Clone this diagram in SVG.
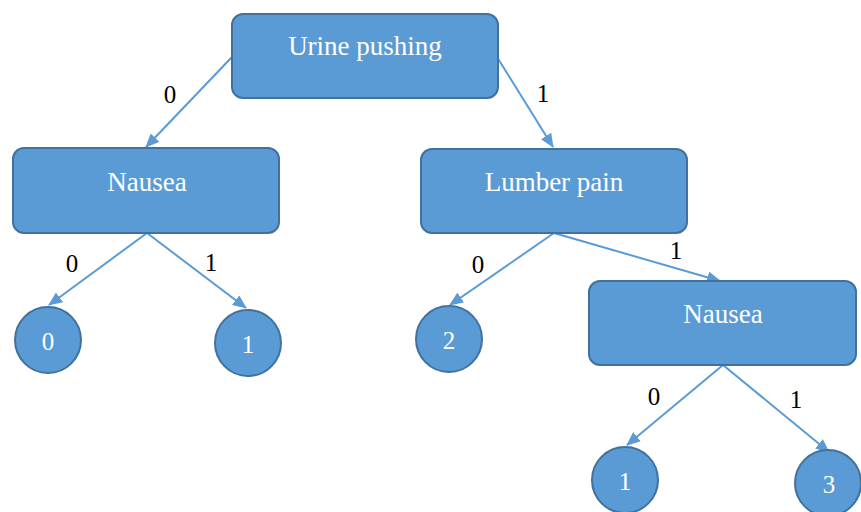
<svg xmlns="http://www.w3.org/2000/svg" width="861" height="512" viewBox="0 0 861 512">
<style>
.node{fill:#5B9BD5;stroke:#41719C;stroke-width:2}
text{font-family:'Liberation Serif','Tinos','Times New Roman','DejaVu Serif',serif}
.nt{font-size:27px;fill:#ffffff;text-anchor:middle}
.ct{font-size:25px;fill:#ffffff;text-anchor:middle}
.lbl{font-size:25px;fill:#000000;text-anchor:middle}
.edge{stroke:#5B9BD5;stroke-width:2;fill:none;marker-end:url(#ah)}
</style>
<defs>
<marker id="ah" markerUnits="userSpaceOnUse" markerWidth="14" markerHeight="12" refX="13" refY="6" orient="auto">
<path d="M0,0 L14,6 L0,12 z" fill="#5B9BD5"/>
</marker>
</defs>
<rect width="861" height="512" fill="#ffffff"/>
<g id="connectors">
<line class="edge" x1="232" y1="57" x2="146" y2="147"/>
<line class="edge" x1="497" y1="57" x2="553" y2="147"/>
<line class="edge" x1="147" y1="233" x2="49" y2="305"/>
<line class="edge" x1="147" y1="233" x2="246" y2="308"/>
<line class="edge" x1="554" y1="233" x2="450" y2="305"/>
<line class="edge" x1="554" y1="233" x2="720" y2="281"/>
<line class="edge" x1="723" y1="365" x2="627" y2="445"/>
<line class="edge" x1="723" y1="365" x2="829" y2="452"/>
<text class="lbl" x="170" y="103" font-family="Liberation Serif, serif">0</text>
<text class="lbl" x="543" y="102" font-family="Liberation Serif, serif">1</text>
<text class="lbl" x="72" y="272" font-family="Liberation Serif, serif">0</text>
<text class="lbl" x="211" y="271" font-family="Liberation Serif, serif">1</text>
<text class="lbl" x="478" y="273" font-family="Liberation Serif, serif">0</text>
<text class="lbl" x="676" y="259" font-family="Liberation Serif, serif">1</text>
<text class="lbl" x="654" y="405" font-family="Liberation Serif, serif">0</text>
<text class="lbl" x="796" y="408" font-family="Liberation Serif, serif">1</text>
</g>
<g id="urine">
<rect class="node" x="232" y="14" width="266" height="84" rx="11"/>
<text class="nt" x="365" y="55" font-family="Liberation Serif, serif">Urine pushing</text>
</g>
<g id="nausea1">
<rect class="node" x="13" y="148" width="266" height="85" rx="11"/>
<text class="nt" x="147" y="191" font-family="Liberation Serif, serif">Nausea</text>
</g>
<g id="lumber">
<rect class="node" x="421" y="149" width="266" height="84" rx="11"/>
<text class="nt" x="554" y="191" font-family="Liberation Serif, serif">Lumber pain</text>
</g>
<g id="nausea2">
<rect class="node" x="589" y="281" width="267" height="84" rx="11"/>
<text class="nt" x="723" y="323" font-family="Liberation Serif, serif">Nausea</text>
</g>
<g id="leaf0">
<circle class="node" cx="48" cy="340" r="33"/>
<text class="ct" x="48" y="350" font-family="Liberation Serif, serif">0</text>
</g>
<g id="leaf1a">
<circle class="node" cx="248" cy="343" r="33"/>
<text class="ct" x="248" y="353" font-family="Liberation Serif, serif">1</text>
</g>
<g id="leaf2">
<circle class="node" cx="449" cy="339" r="33"/>
<text class="ct" x="449" y="349" font-family="Liberation Serif, serif">2</text>
</g>
<g id="leaf1b">
<circle class="node" cx="625" cy="480" r="33"/>
<text class="ct" x="625" y="490" font-family="Liberation Serif, serif">1</text>
</g>
<g id="leaf3">
<circle class="node" cx="828" cy="483" r="33"/>
<text class="ct" x="829" y="493" font-family="Liberation Serif, serif">3</text>
</g>
</svg>
